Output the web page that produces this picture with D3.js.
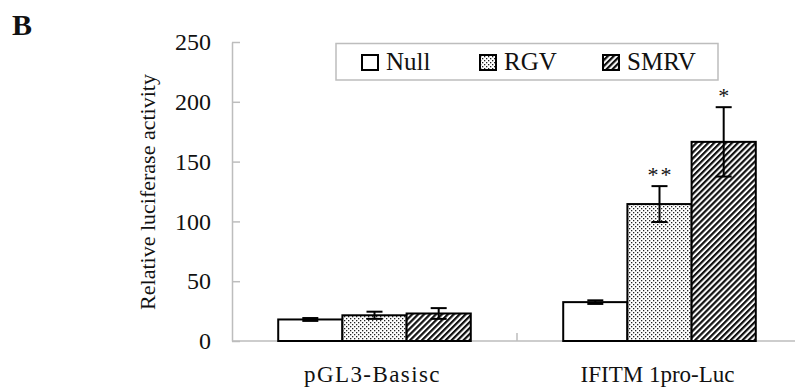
<!DOCTYPE html>
<html>
<head>
<meta charset="utf-8">
<script src="https://cdn.jsdelivr.net/npm/d3@7"></script>
<style>
  html, body { margin: 0; padding: 0; background: #fff; }
  svg { display: block; font-family: "Liberation Serif", "Times New Roman", serif; }
</style>
</head>
<body>
<svg id="chart" width="795" height="389"></svg>
<script>
// ---- data ----
const categories = ["pGL3-Basisc", "IFITM 1pro-Luc"];
const series = ["Null", "RGV", "SMRV"];
const nullValues = [18, 32.5];
const rgvValues = [21.5, 114.5];
const smrvValues = [23, 166.5];
const nullErrors = [1.2, 1.5];
const rgvErrors = [3, 15];
const smrvErrors = [4.5, 29];
const nullMarks = ["", ""];
const rgvMarks = ["", "**"];
const smrvMarks = ["", "*"];
const yTicks = [0, 50, 100, 150, 200, 250];

const values = [nullValues, rgvValues, smrvValues];
const errors = [nullErrors, rgvErrors, smrvErrors];
const marks = [nullMarks, rgvMarks, smrvMarks];

const svg = d3.select("#chart");
const defs = svg.append("defs");

// patterns
const dots = defs.append("pattern").attr("id", "dots")
  .attr("patternUnits", "userSpaceOnUse").attr("width", 4).attr("height", 4);
dots.append("rect").attr("width", 4).attr("height", 4).attr("fill", "#fff");
dots.append("rect").attr("x", 0).attr("y", 0).attr("width", 1.3).attr("height", 1.3).attr("fill", "#222");
dots.append("rect").attr("x", 2).attr("y", 2).attr("width", 1.3).attr("height", 1.3).attr("fill", "#222");

const hatch = defs.append("pattern").attr("id", "hatch")
  .attr("patternUnits", "userSpaceOnUse").attr("width", 4.2).attr("height", 4.2)
  .attr("patternTransform", "rotate(45)");
hatch.append("rect").attr("width", 4.2).attr("height", 4.2).attr("fill", "#fff");
hatch.append("rect").attr("x", 0).attr("y", 0).attr("width", 2.2).attr("height", 4.2).attr("fill", "#111");

const fills = ["#fff", "url(#dots)", "url(#hatch)"];

// scales
const x0 = d3.scaleBand().domain(categories).range([232, 802]).paddingInner(0).paddingOuter(0);
const x1 = d3.scaleBand().domain(series).range([0, x0.bandwidth()]).paddingInner(0).paddingOuter(0.72);
const y = d3.scaleLinear().domain([0, 250]).range([341, 42]);

// y axis
const yAxis = d3.axisLeft(y).tickValues(yTicks).tickSizeInner(-8).tickSizeOuter(0).tickPadding(21);
const gy = svg.append("g").attr("transform", "translate(232,0)").call(yAxis)
  .attr("font-family", "Liberation Serif, Times New Roman, serif");
gy.select(".domain").attr("stroke", "#bdbdbd").attr("stroke-width", 1.5);
gy.selectAll(".tick line").attr("stroke", "#bdbdbd").attr("stroke-width", 1.5);
gy.selectAll(".tick text").attr("font-size", 24).attr("fill", "#111");

// x axis line
svg.append("line").attr("x1", 232).attr("x2", 795).attr("y1", y(0)).attr("y2", y(0))
  .attr("stroke", "#bdbdbd").attr("stroke-width", 1.5);
// separator ticks between categories
svg.selectAll(".sep").data(categories.slice(1)).enter().append("line")
  .attr("x1", d => x0(d)).attr("x2", d => x0(d))
  .attr("y1", y(0)).attr("y2", y(0) - 8)
  .attr("stroke", "#bdbdbd").attr("stroke-width", 1.5);

// category labels
svg.selectAll(".cat").data(categories).enter().append("text")
  .attr("x", d => x0(d) + x0.bandwidth() / 2 - 2)
  .attr("y", 382)
  .attr("text-anchor", "middle")
  .attr("font-size", 23)
  .attr("letter-spacing", (d, i) => i === 0 ? 1.4 : 0)
  .attr("fill", "#111")
  .text(d => d);

// bars
const groups = svg.selectAll(".grp").data(categories).enter().append("g")
  .attr("transform", d => `translate(${x0(d)},0)`);

series.forEach((s, si) => {
  groups.append("rect")
    .attr("x", (d, ci) => x1(s))
    .attr("y", (d, ci) => y(values[si][ci]))
    .attr("width", x1.bandwidth())
    .attr("height", (d, ci) => y(0) - y(values[si][ci]))
    .attr("fill", fills[si])
    .attr("stroke", "#000")
    .attr("stroke-width", 2);
});

// error bars
const capW = 16;
series.forEach((s, si) => {
  groups.each(function(d, ci) {
    const g = d3.select(this);
    const cx = x1(s) + x1.bandwidth() / 2;
    const v = values[si][ci], e = errors[si][ci];
    g.append("line").attr("x1", cx).attr("x2", cx).attr("y1", y(v + e)).attr("y2", y(v - e))
      .attr("stroke", "#000").attr("stroke-width", 2);
    g.append("line").attr("x1", cx - capW / 2).attr("x2", cx + capW / 2).attr("y1", y(v + e)).attr("y2", y(v + e))
      .attr("stroke", "#000").attr("stroke-width", 2);
    g.append("line").attr("x1", cx - capW / 2).attr("x2", cx + capW / 2).attr("y1", y(v - e)).attr("y2", y(v - e))
      .attr("stroke", "#000").attr("stroke-width", 2);
    const m = marks[si][ci];
    if (m) {
      g.append("text").attr("x", cx + 1).attr("y", y(v + e) - 4)
        .attr("text-anchor", "middle").attr("font-size", 22)
        .attr("letter-spacing", 2).attr("fill", "#111").text(m);
    }
  });
});

// y title
svg.append("text")
  .attr("transform", "translate(155,192) rotate(-90)")
  .attr("text-anchor", "middle")
  .attr("font-size", 22)
  .attr("fill", "#111")
  .text("Relative luciferase activity");

// panel label
svg.append("text").attr("x", 12).attr("y", 35)
  .attr("font-size", 30).attr("font-weight", "bold").attr("fill", "#111").text("B");

// legend
const legend = svg.append("g");
legend.append("rect").attr("x", 336).attr("y", 43.5).attr("width", 382).attr("height", 36.5)
  .attr("fill", "#fff").attr("stroke", "#bdbdbd").attr("stroke-width", 1.5);
const legX = [362, 480, 603];
const items = legend.selectAll(".li").data(series).enter().append("g")
  .attr("transform", (d, i) => `translate(${legX[i]},0)`);
items.append("rect").attr("x", 0).attr("y", 55).attr("width", 16).attr("height", 15)
  .attr("fill", (d, i) => fills[i]).attr("stroke", "#000").attr("stroke-width", 2);
items.append("text").attr("x", 24).attr("y", 70).attr("font-size", 25).attr("fill", "#111").text(d => d);
</script>
</body>
</html>
